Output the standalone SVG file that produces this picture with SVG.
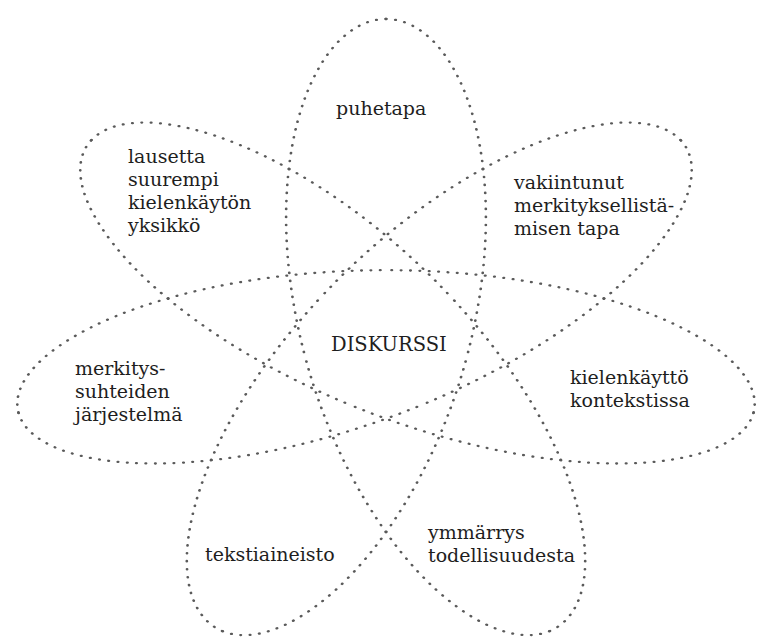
<svg xmlns="http://www.w3.org/2000/svg" xmlns:xlink="http://www.w3.org/1999/xlink" width="757" height="642" viewBox="0 0 757 642">
<style>
  .dot { fill: none; stroke: #5a5a5a; stroke-width: 2.3; stroke-linecap: round; stroke-dasharray: 0.4 7.6; }
  text { font-family: "DejaVu Serif", "Liberation Serif", serif; font-size: 19px; fill: #1e1e1e; }
  .center { font-size: 19.5px; }
</style>
<defs>
  <path id="half" class="dot" d="M322,0 C322,15.3 312.9,30.57 295.5,43.75 C278.1,56.92 252.41,67.96 220.65,75.27 C188.89,82.58 151.1,86.12 110.52,85.17 C69.94,84.21 26.62,78.74 -15.76,69.06"/>
  <g id="petal">
    <use xlink:href="#half" href="#half"/>
    <use xlink:href="#half" href="#half" transform="scale(1,-1)"/>
  </g>
</defs>
<rect width="757" height="642" fill="#ffffff"/>
<g id="connectors" transform="translate(386,341) scale(1.1708,-1) rotate(90)">
  <use xlink:href="#petal" href="#petal"/>
  <use xlink:href="#petal" href="#petal" transform="rotate(51.4286)"/>
  <use xlink:href="#petal" href="#petal" transform="rotate(102.857)"/>
  <use xlink:href="#petal" href="#petal" transform="rotate(154.286)"/>
  <use xlink:href="#petal" href="#petal" transform="rotate(205.714)"/>
  <use xlink:href="#petal" href="#petal" transform="rotate(257.143)"/>
  <use xlink:href="#petal" href="#petal" transform="rotate(308.571)"/>
</g>
<g id="diskurssi"><text class="center" x="331" y="351">DISKURSSI</text></g>
<g id="puhetapa"><text x="336" y="115">puhetapa</text></g>
<g id="lausetta">
  <text x="128" y="163">lausetta</text>
  <text x="128" y="186">suurempi</text>
  <text x="128" y="209">kielenkäytön</text>
  <text x="128" y="232">yksikkö</text>
</g>
<g id="vakiintunut">
  <text x="514" y="189">vakiintunut</text>
  <text x="514" y="212">merkityksellistä-</text>
  <text x="514" y="235">misen tapa</text>
</g>
<g id="merkityssuhteiden">
  <text x="75" y="375">merkitys-</text>
  <text x="75" y="398">suhteiden</text>
  <text x="75" y="421">järjestelmä</text>
</g>
<g id="kielenkaytto">
  <text x="570" y="384">kielenkäyttö</text>
  <text x="570" y="407">kontekstissa</text>
</g>
<g id="tekstiaineisto"><text x="205" y="561">tekstiaineisto</text></g>
<g id="ymmarrys">
  <text x="428" y="539">ymmärrys</text>
  <text x="428" y="562">todellisuudesta</text>
</g>
</svg>
